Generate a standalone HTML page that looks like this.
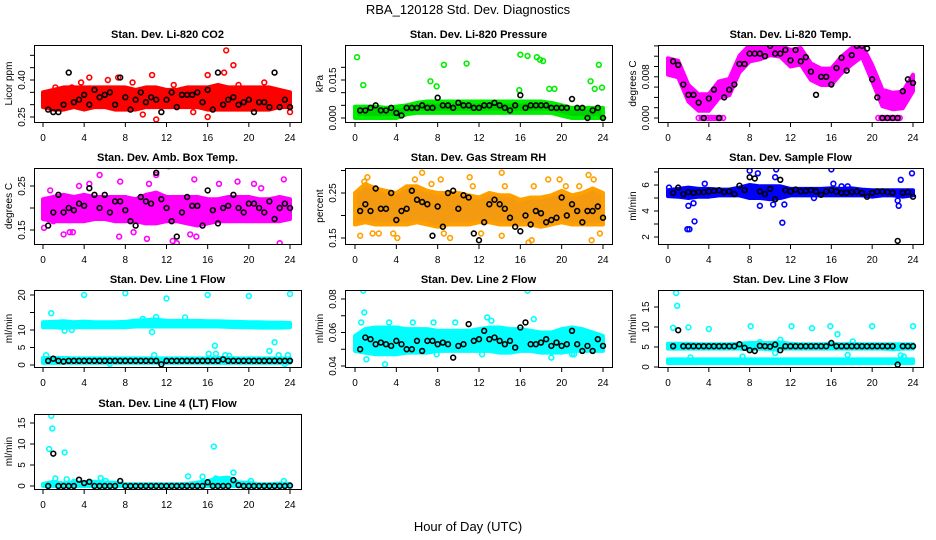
<!DOCTYPE html>
<html><head><meta charset="utf-8">
<style>
html,body{margin:0;padding:0;background:#fff;}
svg{display:block;font-family:"Liberation Sans",Arial,sans-serif;}
</style></head>
<body>
<svg id="chart" width="936" height="540" viewBox="0 0 936 540" xmlns="http://www.w3.org/2000/svg">
<text x="468" y="14" text-anchor="middle" font-size="13">RBA_120128  Std. Dev. Diagnostics</text>
<text x="468" y="531" text-anchor="middle" font-size="13">Hour of Day (UTC)</text>
</svg>
<script>
const bandHours=[0,1,2,3,4,5,6,7,8,9,10,11,12,13,14,15,16,17,18,19,20,21,22,23,24];
const blackHours=[0.5,1,1.5,2,2.5,3,3.5,4,4.5,5,5.5,6,6.5,7,7.5,8,8.5,9,9.5,10,10.5,11,11.5,12,12.5,13,13.5,14,14.5,15,15.5,16,16.5,17,17.5,18,18.5,19,19.5,20,20.5,21,21.5,22,22.5,23,23.5,24];
const xTicks=[0,4,8,12,16,20,24];

// Panel 1 CO2
const co2Low=[0.29,0.28,0.28,0.29,0.28,0.29,0.29,0.28,0.28,0.28,0.29,0.29,0.29,0.29,0.29,0.29,0.28,0.28,0.28,0.28,0.28,0.28,0.28,0.29,0.29];
const co2High=[0.35,0.36,0.37,0.37,0.37,0.37,0.37,0.37,0.37,0.36,0.37,0.37,0.36,0.36,0.37,0.37,0.37,0.38,0.37,0.37,0.37,0.37,0.37,0.36,0.35];
const co2OutX=[17.8,18.5,17.6,16,10.6,4.5,11,16,9.7,14.6,7.3,21.5,2.8,3.7,19,12.7,6.3,24,0.3,1.2,8.7];
const co2OutY=[0.52,0.46,0.43,0.42,0.42,0.41,0.24,0.25,0.26,0.27,0.41,0.39,0.37,0.39,0.38,0.38,0.40,0.27,0.34,0.37,0.39];
const co2Black=[0.28,0.27,0.27,0.30,0.43,0.31,0.32,0.34,0.30,0.36,0.33,0.34,0.35,0.30,0.41,0.33,0.28,0.32,0.35,0.31,0.33,0.32,0.27,0.32,0.35,0.29,0.34,0.34,0.34,0.35,0.31,0.36,0.28,0.43,0.30,0.32,0.33,0.30,0.31,0.32,0.27,0.31,0.31,0.29,0.43,0.29,0.32,0.29];
const co2Ticks=[0.25,0.30,0.35,0.40,0.45,0.50];
const co2Labels=["0.25","","","0.40","",""];

// Panel 2 Pressure
const prLow=[0,0,0,0,0,0.0015,0.002,0.002,0.002,0.002,0.002,0.002,0.002,0.002,0.002,0.002,0.002,0.002,0.002,0.002,0.001,0,0,0,0];
const prHigh=[0.0045,0.0045,0.0045,0.004,0.0045,0.005,0.006,0.0065,0.0065,0.0065,0.0065,0.0065,0.0065,0.0065,0.0065,0.0065,0.0065,0.0065,0.0065,0.006,0.005,0.004,0.004,0.004,0.004];
const prOutX=[0.2,0.8,7.3,7.9,8.6,10.8,15.9,16,16.7,17.6,17.9,18.2,18.8,19.3,22.8,23.2,23.6,23.9];
const prOutY=[0.024,0.013,0.0145,0.0125,0.021,0.0215,0.011,0.025,0.0245,0.024,0.023,0.0225,0.0115,0.0115,0.0145,0.0115,0.021,0.012];
const prBlack=[0.003,0.003,0.004,0.005,0.003,0.003,0.004,0.002,0.001,0.004,0.004,0.004,0.005,0.004,0.004,0.008,0.005,0.005,0.004,0.006,0.005,0.005,0.004,0.004,0.005,0.005,0.006,0.005,0.004,0.003,0.005,0.009,0.004,0.005,0.005,0.005,0.005,0.004,0.004,0.004,0.004,0.0075,0.004,0.004,0,0.003,0.004,0];
const prTicks=[0,0.005,0.010,0.015,0.020];
const prLabels=["0.000","","","0.015",""];

// Panel 3 Temp
const tmLow=[0.0084,0.0079,0.0032,0.0014,0.0014,0.0039,0.0044,0.0089,0.011,0.0114,0.0122,0.0119,0.01,0.0104,0.0074,0.0064,0.0064,0.0087,0.0104,0.0119,0.0071,0.0023,0.0017,0.0019,0.0052];
const tmHigh=[0.0116,0.0111,0.0064,0.0046,0.0046,0.0071,0.0076,0.0121,0.0142,0.0142,0.0142,0.0142,0.0132,0.0136,0.0106,0.0096,0.0096,0.0119,0.0136,0.0142,0.0103,0.0055,0.0049,0.0051,0.0084];
const tmOutX=[3.0,3.3,3.6,3.9,4.2,4.5,4.8,5.1,5.4,20.6,20.9,21.2,21.5,21.8,22.1,22.4,22.7,6.3];
const tmOutY=[0,0,0,0,0,0,0,0,0,0,0,0,0,0,0,0,0,0.0082];
const tmBlack=[0.011,0.0103,0.0065,0.0045,0.0045,0.003,0,0.0038,0.0055,0,0.004,0.0055,0.0065,0.0105,0.0105,0.0125,0.0125,0.0125,0.012,0.014,0.0125,0.0125,0.0132,0.0112,0.0132,0.011,0.0118,0.009,0.0045,0.008,0.008,0.0065,0.0097,0.0117,0.0092,0.0122,0.014,0.014,0.0135,0.0075,0.004,0,0,0,0,0.0052,0.0075,0.0068];
const tmTicks=[0,0.002,0.004,0.006,0.008,0.010,0.012,0.014];
const tmLabels=["0.000","","","","0.008","","",""];

// Panel 4 Amb box temp
const abLow=[0.175,0.17,0.17,0.17,0.17,0.175,0.175,0.17,0.17,0.17,0.165,0.165,0.17,0.17,0.165,0.16,0.165,0.17,0.17,0.17,0.17,0.17,0.17,0.17,0.175];
const abHigh=[0.22,0.225,0.23,0.225,0.23,0.225,0.225,0.225,0.225,0.22,0.23,0.235,0.225,0.225,0.225,0.225,0.22,0.22,0.225,0.225,0.225,0.22,0.22,0.225,0.22];
const abOutX=[0.1,0.7,2,2.6,2.9,4.5,5.5,7.4,7.5,10.1,10.3,11,12.2,12.6,13,14.3,14.9,14.7,17.1,18.9,20.5,23,23.4,21.2,1,8.8,3.5];
const abOutY=[0.155,0.24,0.14,0.145,0.145,0.255,0.275,0.135,0.26,0.13,0.255,0.275,0.295,0.125,0.12,0.14,0.135,0.265,0.255,0.26,0.255,0.12,0.265,0.245,0.17,0.145,0.25];
const abBlack=[0.16,0.19,0.23,0.19,0.20,0.195,0.21,0.205,0.245,0.23,0.20,0.23,0.19,0.215,0.215,0.195,0.17,0.16,0.225,0.215,0.21,0.28,0.22,0.20,0.17,0.135,0.19,0.225,0.205,0.205,0.16,0.24,0.195,0.165,0.2,0.205,0.23,0.20,0.19,0.21,0.21,0.20,0.19,0.215,0.175,0.20,0.21,0.20];
const abTicks=[0.15,0.20,0.25];
const abLabels=["0.15","","0.25"];

// Panel 5 RH
const rhLow=[0.18,0.185,0.18,0.18,0.18,0.18,0.185,0.18,0.175,0.18,0.18,0.18,0.185,0.185,0.18,0.18,0.18,0.18,0.175,0.18,0.185,0.18,0.18,0.18,0.18];
const rhHigh=[0.25,0.27,0.26,0.255,0.25,0.265,0.265,0.255,0.25,0.25,0.25,0.245,0.24,0.25,0.245,0.245,0.235,0.24,0.24,0.245,0.255,0.245,0.25,0.26,0.25];
const rhOutX=[0.5,0.9,1.2,1.7,2.3,3.7,4.1,6.5,7.4,8.3,8.6,9.2,11.1,11.4,12.2,14.2,14.2,14.5,16.8,17.1,17.3,18.7,19.8,20.4,21.7,22.6,22.9,23,23.1,23.7,5.8];
const rhOutY=[0.155,0.275,0.285,0.16,0.16,0.16,0.15,0.295,0.27,0.28,0.16,0.15,0.285,0.265,0.16,0.295,0.155,0.265,0.14,0.145,0.265,0.28,0.28,0.265,0.265,0.29,0.145,0.31,0.28,0.16,0.28];
const rhBlack=[0.21,0.225,0.21,0.26,0.215,0.215,0.25,0.19,0.21,0.215,0.255,0.235,0.23,0.225,0.155,0.22,0.175,0.25,0.255,0.215,0.245,0.24,0.16,0.145,0.185,0.225,0.235,0.225,0.215,0.195,0.175,0.165,0.2,0.18,0.21,0.205,0.185,0.19,0.195,0.24,0.2,0.225,0.21,0.185,0.21,0.21,0.22,0.195];
const rhTicks=[0.15,0.20,0.25,0.30];
const rhLabels=["0.15","","0.25",""];

// Panel 6 Sample flow
const sfLow=[5.15,5.1,5.0,5.1,5.1,5.2,5.2,5.2,5.0,5.0,4.9,5.0,5.2,5.2,5.2,5.2,5.2,5.2,5.2,5.2,5.1,5.2,5.2,5.1,5.2];
const sfHigh=[5.6,5.7,5.8,5.7,5.7,5.65,5.65,5.8,6.0,5.9,5.9,5.9,5.7,5.7,5.7,5.7,5.75,5.7,5.75,5.65,5.6,5.6,5.6,5.6,5.6];
const sfOutX=[0.1,1.9,2.1,2.0,2.5,2.6,3.6,8,8.8,9,10.3,10.5,10.6,11.2,11.4,14.3,16,16.2,17,17.6,22.6,22.8,23.9,22.5];
const sfOutY=[5.8,2.6,2.6,4.4,4.6,3.2,6.1,7.1,6.9,4.4,4.5,6.6,7.2,3.1,4.5,5.0,7.2,6.1,5.9,5.9,4.4,6.4,6.9,4.8];
const sfBlack=[5.4,5.8,5.3,5.45,5.4,5.45,5.45,5.5,5.55,5.6,5.45,5.5,5.3,5.95,5.6,6.6,6.5,5.5,5.3,5.7,4.9,6.4,5.6,5.5,5.65,5.5,5.55,5.6,5.5,5.25,5.5,5.6,5.5,5.4,5.4,5.45,5.5,5.4,5.1,5.4,5.5,5.5,5.45,5.4,1.7,5.4,5.45,5.1];
const sfTicks=[2,3,4,5,6,7];
const sfLabels=["2","","4","","6",""];

// Panel 7 Line 1
const l1Low=[10.8,10.8,10.6,10.8,10.8,10.8,10.8,10.8,10.8,11.0,11.0,11.0,11.0,11.0,11.0,11.0,11.0,11.0,10.9,10.8,10.8,10.7,10.7,10.7,10.8];
const l1High=[12.2,12.3,12.5,12.2,12.4,12.2,12.2,12.2,12.3,12.7,12.8,13.0,12.6,12.6,12.6,12.6,12.5,12.5,12.4,12.3,12.2,12.2,12.1,12.1,12.0];
const l1LowB=[0.6,0.6,0.6,0.6,0.6,0.6,0.6,0.6,0.6,0.6,0.6,0.6,0.6,0.6,0.6,0.6,0.6,0.6,0.6,0.6,0.6,0.6,0.6,0.6,0.6];
const l1HighB=[2.0,2.0,2.0,1.9,1.9,1.9,1.9,1.9,1.9,1.9,1.9,1.9,1.9,1.9,1.9,1.9,1.9,2.0,2.0,1.9,1.9,1.9,1.9,1.9,1.9];
const l1OutX=[0.3,0.8,2.1,2.8,4,8,9.7,10.6,10.8,11,12,13.8,16,16.1,16.7,16.8,17.7,18.1,20,22,22.5,22.9,23.8,24,6.5,23.5];
const l1OutY=[2.8,14.8,9.8,10,20,20.5,13.2,9.4,2.8,13.7,19,13.6,20,3.2,5.5,3.2,2.8,2.6,19.7,4.0,6.5,2.8,2.8,20.3,0.3,0.3];
const l1Black=[1.2,1.8,1.2,1.0,1.2,1.2,1.2,1.2,1.2,1.2,1.2,1.2,1.2,1.2,1.2,1.2,1.2,1.2,1.2,1.2,1.2,1.2,0.2,1.2,1.2,1.2,1.2,1.2,1.2,1.2,1.2,1.2,1.2,1.2,1.6,1.2,1.2,1.2,1.2,1.2,1.2,1.2,1.2,1.2,1.2,1.2,1.2,1.2];
const l1Ticks=[0,5,10,15,20];
const l1Labels=["0","5","10","","20"];

// Panel 8 Line 2
const l2Low=[0.049,0.048,0.047,0.047,0.047,0.048,0.048,0.048,0.049,0.049,0.049,0.049,0.049,0.049,0.048,0.048,0.049,0.049,0.048,0.048,0.048,0.049,0.049,0.049,0.049];
const l2High=[0.058,0.062,0.063,0.063,0.063,0.062,0.062,0.062,0.061,0.061,0.061,0.061,0.062,0.063,0.063,0.062,0.062,0.061,0.06,0.06,0.062,0.063,0.062,0.06,0.058];
const l2OutX=[0.8,0.9,1.1,2.9,3.3,5.6,7.9,9.7,12.3,12.8,13.2,16.7,17.3,19,21,21.2,22.2,18.5,0.6,7.6];
const l2OutY=[0.085,0.072,0.044,0.041,0.066,0.066,0.047,0.066,0.047,0.069,0.067,0.085,0.068,0.045,0.047,0.047,0.052,0.05,0.066,0.066];
const l2Black=[0.05,0.057,0.056,0.053,0.054,0.053,0.052,0.055,0.053,0.05,0.05,0.055,0.049,0.055,0.055,0.053,0.054,0.053,0.045,0.052,0.053,0.065,0.055,0.056,0.061,0.056,0.057,0.055,0.053,0.055,0.051,0.063,0.066,0.053,0.053,0.054,0.056,0.052,0.054,0.052,0.053,0.061,0.053,0.049,0.052,0.049,0.056,0.052];
const l2Ticks=[0.04,0.05,0.06,0.07,0.08];
const l2Labels=["0.04","","0.06","","0.08"];

// Panel 9 Line 3
const l3Low=[4.6,4.6,4.6,4.6,4.6,4.6,4.6,4.6,4.4,4.6,4.4,4.6,4.6,4.6,4.6,4.6,4.6,4.6,4.6,4.6,4.6,4.6,4.4,4.6,4.6];
const l3High=[5.8,5.8,5.8,5.7,5.7,5.7,5.7,5.8,6.0,6.0,6.0,6.2,5.8,5.7,5.7,5.7,5.8,5.7,5.8,5.7,5.7,5.7,5.7,5.7,5.7];
const l3LowB=[1.0,1.0,1.0,1.0,1.0,1.0,1.0,1.0,1.0,1.0,1.0,1.0,1.0,1.0,1.0,1.0,1.0,1.0,1.0,1.0,1.0,1.0,1.0,1.0,1.0];
const l3HighB=[1.9,1.9,1.9,1.9,1.9,1.9,1.9,1.9,1.9,1.9,1.9,1.9,1.9,1.9,1.9,1.9,1.9,1.9,1.9,1.9,1.9,1.9,1.9,1.9,1.9];
const l3OutX=[0.5,0.8,0.9,2,2.2,4,7.3,8.1,11,12.1,14.1,15.9,16.6,17.6,18.1,20,22.8,23.1,24,10.5,9];
const l3OutY=[9.8,18.5,15.3,9.9,2.4,9.5,2.6,10.2,6.8,10.2,9.7,10.2,8.2,3.0,6.4,10.2,2.9,2.6,10.2,3.5,6.2];
const l3Black=[5.2,9.2,5.2,5.2,5.2,5.2,5.2,5.2,5.2,5.2,5.2,5.2,5.2,5.7,4.8,4.2,4.0,5.3,5.2,5.1,5.6,4.2,5.2,5.2,5.2,5.2,5.2,5.2,5.2,5.2,5.2,6.0,5.2,5.2,5.2,5.2,5.2,5.2,5.2,5.2,5.2,5.2,5.2,5.2,0.6,5.2,5.2,5.2];
const l3Ticks=[0,5,10,15];
const l3Labels=["0","5","10","15"];

// Panel 10 Line 4
const l4Low=[0,0,0,0,0,0,0,0,0,0,0,0,0,0,0,0,0,0,0,0,0,0,0,0,0];
const l4High=[0.5,1.0,0.6,0.9,0.8,1.0,0.8,0.8,0.4,0.4,0.4,0.4,0.4,0.4,0.5,0.8,1.2,1.8,2.0,0.8,0.8,0.4,0.4,0.6,0.5];
const l4OutX=[0.6,0.8,0.9,1.2,2.1,2.3,5.6,6.1,14.1,15.5,16.6,16.8,18.5,20.2,23.4,3,4.5];
const l4OutY=[8.8,16.7,13.7,1.8,8,1.6,1.9,1.2,2.3,2.2,9.4,1.8,3.2,1.2,1.2,1.0,1.0];
const l4Black=[0,7.7,0,0,0,0,1.5,0.7,1.0,0,0,0,0,0,1.2,0,0,0,0,0,0,0,0,0,0,0,0,0,0,0,0,0.9,0,0,0,0,1.4,0.2,0,0,0,0,0,0,0,0,0,0.1];
const l4Ticks=[0,5,10,15];
const l4Labels=["0","5","10","15"];

const NS="http://www.w3.org/2000/svg";
const svg=document.getElementById('chart');
function mk(tag,attrs,parent){const e=document.createElementNS(NS,tag);for(const k in attrs)e.setAttribute(k,attrs[k]);(parent||svg).appendChild(e);return e;}

function drawPanel(p){
  const g=mk('g',{});
  
  
  const sx=v=>p.x0+(v/24)*(p.x24-p.x0);
  const sy=v=>p.py0+(v-p.v0)*(p.py1-p.py0)/(p.v1-p.v0);
  const clip='clip-'+p.name;
  const cp=mk('clipPath',{id:clip},g);
  mk('rect',{x:p.l,y:p.t,width:p.r-p.l,height:p.b-p.t},cp);
  const plot=mk('g',{'clip-path':'url(#'+clip+')'},g);
  p.bands.forEach(function(bd){
    let d='';
    bandHours.forEach(function(h,i){d+=(i?'L':'M')+sx(h).toFixed(1)+','+sy(bd[1][i]).toFixed(1);});
    for(let i=bandHours.length-1;i>=0;i--){d+='L'+sx(bandHours[i]).toFixed(1)+','+sy(bd[0][i]).toFixed(1);}
    const path=mk('path',{d:d+'Z',fill:p.fill,stroke:p.color,'stroke-width':4,'stroke-linejoin':'round'},plot);
    
    
  });
  p.outX.forEach(function(xv,i){
    const c=mk('circle',{cx:sx(xv),cy:sy(p.outY[i]),r:2.4,fill:'none',stroke:p.color,'stroke-width':1.6},plot);
    
    
  });
  blackHours.forEach(function(h,i){
    const c=mk('circle',{cx:sx(h),cy:sy(p.black[i]),r:2.4,fill:'none',stroke:'#000','stroke-width':1.6},plot);
    
    
  });
  const box=mk('rect',{x:p.l+0.5,y:p.t+0.5,width:p.r-p.l,height:p.b-p.t,fill:'none',stroke:'#000','stroke-width':1},g);
  
  
  const xa=mk('g',{},g);
  
  
  mk('line',{x1:sx(0),x2:sx(24),y1:p.b+0.5,y2:p.b+0.5,stroke:'#000'},xa);
  xTicks.forEach(function(v){
    mk('line',{x1:sx(v),x2:sx(v),y1:p.b,y2:p.b+5,stroke:'#000'},xa);
    const t=mk('text',{x:sx(v),y:p.b+19,'text-anchor':'middle','font-size':10},xa);
    t.textContent=String(v);
  });
  const ya=mk('g',{},g);
  
  
  const ty=p.ticks.map(sy);
  mk('line',{x1:p.l+0.5,x2:p.l+0.5,y1:Math.min(...ty),y2:Math.max(...ty),stroke:'#000'},ya);
  p.ticks.forEach(function(v,i){
    const y=sy(v);
    mk('line',{x1:p.l-4,x2:p.l,y1:y,y2:y,stroke:'#000'},ya);
    if(p.labels[i]){
      const t=mk('text',{x:p.l-9,y:y,'text-anchor':'middle','font-size':10,transform:'rotate(-90 '+(p.l-9)+' '+y+')'},ya);
      t.textContent=p.labels[i];
    }
  });
  const cy=(p.t+p.b)/2;
  const yt=mk('text',{x:p.l-22,y:cy,'text-anchor':'middle','font-size':10,transform:'rotate(-90 '+(p.l-22)+' '+cy+')'},g);
  yt.textContent=p.ylab;
  
  
  const tt=mk('text',{x:(p.l+p.r)/2,y:p.t-7,'text-anchor':'middle','font-size':11,'font-weight':'bold'},g);
  tt.textContent=p.title;
  
  
}

const C1={l:34,r:301,x0:43,x24:290}, C2={l:345,r:612,x0:355,x24:603}, C3={l:658,r:923,x0:668,x24:913};
const R1={t:45,b:122}, R2={t:168,b:244}, R3={t:290,b:367}, R4={t:414,b:489};
function geo(c,r,o){return Object.assign({},c,r,o);}

drawPanel(geo(C1,R1,{name:'co2',title:'Stan. Dev. Li-820 CO2',ylab:'Licor ppm',color:'#ff0000',fill:'#ff0000',v0:0.25,py0:117,v1:0.40,py1:80,bands:[[co2Low,co2High]],outX:co2OutX,outY:co2OutY,black:co2Black,ticks:co2Ticks,labels:co2Labels}));
drawPanel(geo(C2,R1,{name:'pressure',title:'Stan. Dev. Li-820 Pressure',ylab:'kPa',color:'#00ee00',fill:'#00d400',v0:0,py0:118,v1:0.015,py1:80,bands:[[prLow,prHigh]],outX:prOutX,outY:prOutY,black:prBlack,ticks:prTicks,labels:prLabels}));
drawPanel(geo(C3,R1,{name:'li820-temp',title:'Stan. Dev. Li-820 Temp.',ylab:'degrees C',color:'#ff00ff',fill:'#ff00ff',v0:0,py0:118,v1:0.008,py1:76.8,bands:[[tmLow,tmHigh]],outX:tmOutX,outY:tmOutY,black:tmBlack,ticks:tmTicks,labels:tmLabels}));
drawPanel(geo(C1,R2,{name:'amb-box-temp',title:'Stan. Dev. Amb. Box Temp.',ylab:'degrees C',color:'#ff00ff',fill:'#ff00ff',v0:0.15,py0:230,v1:0.25,py1:186,bands:[[abLow,abHigh]],outX:abOutX,outY:abOutY,black:abBlack,ticks:abTicks,labels:abLabels}));
drawPanel(geo(C2,R2,{name:'gas-rh',title:'Stan. Dev. Gas Stream RH',ylab:'percent',color:'#ffa000',fill:'#f39a10',v0:0.15,py0:238,v1:0.25,py1:193,bands:[[rhLow,rhHigh]],outX:rhOutX,outY:rhOutY,black:rhBlack,ticks:rhTicks,labels:rhLabels}));
drawPanel(geo(C3,R2,{name:'sample-flow',title:'Stan. Dev. Sample Flow',ylab:'ml/min',color:'#0000ff',fill:'#0000ff',v0:2,py0:237,v1:6,py1:185,bands:[[sfLow,sfHigh]],outX:sfOutX,outY:sfOutY,black:sfBlack,ticks:sfTicks,labels:sfLabels}));
drawPanel(geo(C1,R3,{name:'line1-flow',title:'Stan. Dev. Line 1 Flow',ylab:'ml/min',color:'#00ffff',fill:'#00ffff',v0:0,py0:365,v1:20,py1:295,bands:[[l1Low,l1High],[l1LowB,l1HighB]],outX:l1OutX,outY:l1OutY,black:l1Black,ticks:l1Ticks,labels:l1Labels}));
drawPanel(geo(C2,R3,{name:'line2-flow',title:'Stan. Dev. Line 2 Flow',ylab:'ml/min',color:'#00ffff',fill:'#00ffff',v0:0.04,py0:366,v1:0.08,py1:299,bands:[[l2Low,l2High]],outX:l2OutX,outY:l2OutY,black:l2Black,ticks:l2Ticks,labels:l2Labels}));
drawPanel(geo(C3,R3,{name:'line3-flow',title:'Stan. Dev. Line 3 Flow',ylab:'ml/min',color:'#00ffff',fill:'#00ffff',v0:0,py0:367,v1:15,py1:307,bands:[[l3Low,l3High],[l3LowB,l3HighB]],outX:l3OutX,outY:l3OutY,black:l3Black,ticks:l3Ticks,labels:l3Labels}));
drawPanel(geo(C1,R4,{name:'line4-flow',title:'Stan. Dev. Line 4 (LT) Flow',ylab:'ml/min',color:'#00ffff',fill:'#00ffff',v0:0,py0:486,v1:15,py1:423,bands:[[l4Low,l4High]],outX:l4OutX,outY:l4OutY,black:l4Black,ticks:l4Ticks,labels:l4Labels}));
</script>
</body></html>
